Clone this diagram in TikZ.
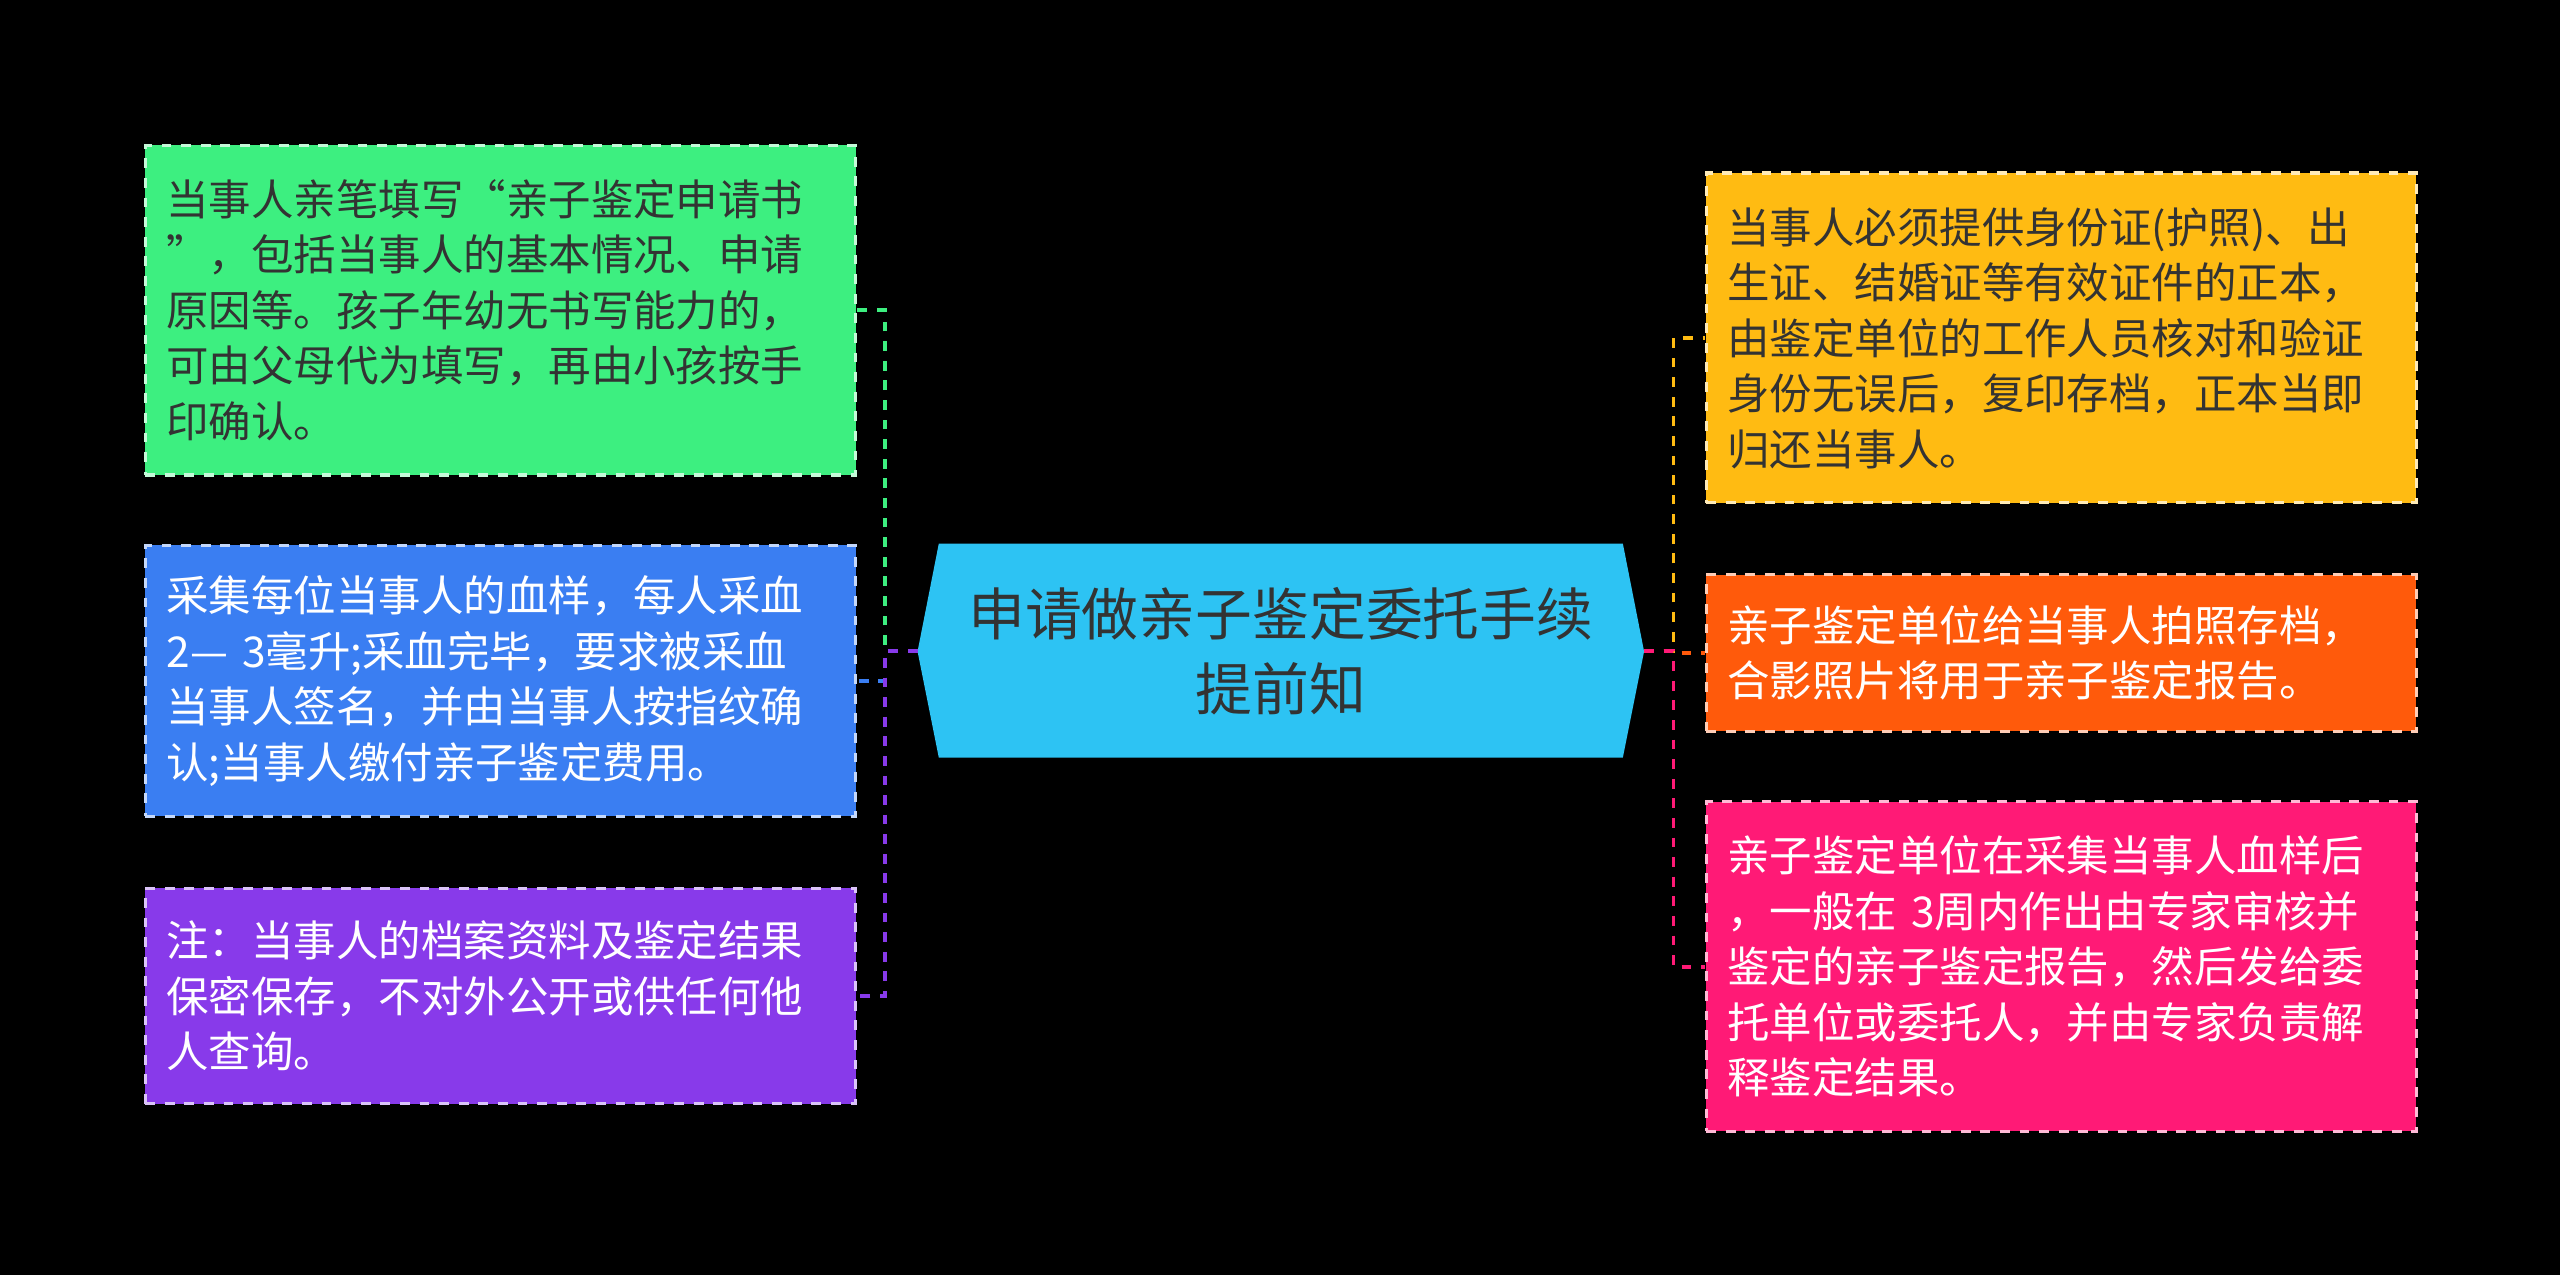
\documentclass[tikz,border=0pt]{standalone}
\usepackage{fontspec}
\setmainfont{Noto Sans CJK SC}
\definecolor{cgreen}{HTML}{3DEF80}
\definecolor{cblue}{HTML}{3A7EF2}
\definecolor{cpurple}{HTML}{883AEA}
\definecolor{camber}{HTML}{FFBB12}
\definecolor{corange}{HTML}{FF5A0B}
\definecolor{cpink}{HTML}{FF1A76}
\definecolor{ccenter}{HTML}{2DC3F3}
\definecolor{dtext}{HTML}{333333}
\tikzset{x=0.5pt,y=-0.5pt,
 leaf/.style={draw=white!70!#1,dashed,line width=1pt,fill=#1,rectangle,text width=204.5pt,inner xsep=6.5pt,align=left,anchor=north west,font=\fontsize{13}{17}\selectfont},
 conn/.style={draw=#1,dashed,line width=1.2pt}}
\begin{document}
\begin{tikzpicture}
\fill[black] (0,0) rectangle (1568,781);
\useasboundingbox (0,0) rectangle (1568,781);
% center
\fill[ccenter] (562,399) -- (575,333) -- (994,333) -- (1007,399) -- (994,464) -- (575,464) -- cycle;
\node[font=\fontsize{17.4}{23}\selectfont,text=dtext,align=center] (c) at (784.5,399) {申请做亲子鉴定委托手续\\提前知};
\coordinate (cl) at (562,399); \coordinate (cr) at (1007,399);
% left nodes
\node[leaf=cgreen,text=dtext,minimum height=101pt] (l1) at (88,88) {当事人亲笔填写“亲子鉴定申请书\\”，包括当事人的基本情况、申请\\原因等。孩子年幼无书写能力的，\\可由父母代为填写，再由小孩按手\\印确认。};
\node[leaf=cblue,text=white,minimum height=83pt] (l2) at (88,333) {采集每位当事人的血样，每人采血\\2— 3毫升;采血完毕，要求被采血\\当事人签名，并由当事人按指纹确\\认;当事人缴付亲子鉴定费用。};
\node[leaf=cpurple,text=white,minimum height=66pt] (l3) at (88,543) {注：当事人的档案资料及鉴定结果\\保密保存，不对外公开或供任何他\\人查询。};
% right nodes
\node[leaf=camber,text=dtext,minimum height=101pt] (r1) at (1044,105) {当事人必须提供身份证(护照)、出\\生证、结婚证等有效证件的正本，\\由鉴定单位的工作人员核对和验证\\身份无误后，复印存档，正本当即\\归还当事人。};
\node[leaf=corange,text=white,minimum height=48pt] (r2) at (1044,351) {亲子鉴定单位给当事人拍照存档，\\合影照片将用于亲子鉴定报告。};
\node[leaf=cpink,text=white,minimum height=101pt] (r3) at (1044,490) {亲子鉴定单位在采集当事人血样后\\，一般在 3周内作出由专家审核并\\鉴定的亲子鉴定报告，然后发给委\\托单位或委托人，并由专家负责解\\释鉴定结果。};
% connectors
\draw[conn=cgreen] (cl) -- ++(-20,0) |- (l1.east);
\draw[conn=cblue] (cl) -- ++(-20,0) |- (l2.east);
\draw[conn=cpurple] (cl) -- ++(-20,0) |- (l3.east);
\draw[conn=camber] (cr) -- ++(18,0) |- (r1.west);
\draw[conn=corange] (cr) -- ++(18,0) |- (r2.west);
\draw[conn=cpink] (cr) -- ++(18,0) |- (r3.west);
\end{tikzpicture}
\end{document}
